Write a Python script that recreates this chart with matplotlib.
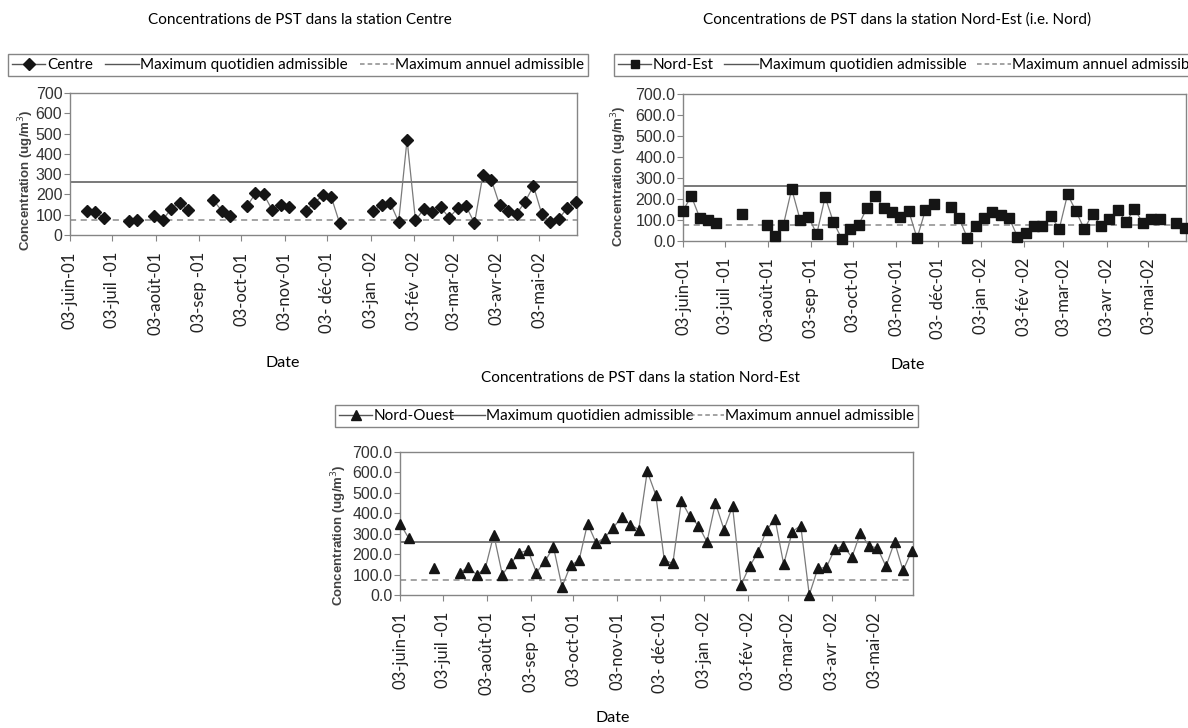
import numpy as np
import pandas as pd
import matplotlib
matplotlib.use("Agg")
import matplotlib.pyplot as plt
from matplotlib.lines import Line2D

plt.rcParams["font.family"] = ["Lato", "DejaVu Sans"]

# prélèvements tous les 6 jours, 03/06/2001 -> 29/05/2002
dates = pd.date_range("2001-06-03", periods=61, freq="6D")
nan = np.nan

centre = [nan, nan, 120, 111, 85, nan, nan, 67, 76, nan,
          92, 74, 129, 160, 123, nan, nan, 172, 120, 93,
          nan, 141, 205, 200, 123, 148, 137, nan, 120, 160,
          195, 188, 58, nan, nan, nan, 118, 150, 158, 65,
          470, 72, 129, 111, 136, 85, 132, 143, 58, 296,
          272, 146, 118, 105, 163, 242, 102, 63, 80, 132,
          165]
nord_est = [145, 213, 111, 100, 84, nan, nan, 130, nan, nan,
            75, 24, 75, 248, 102, 116, 33, 210, 89, 10,
            56, 76, 157, 216, 159, 140, 116, 143, 13, 148,
            177, nan, 162, 111, 16, 72, 108, 140, 124, 111,
            21, 40, 72, 72, 121, 57, 222, 143, 57, 130,
            72, 107, 148, 91, 153, 86, 107, 107, nan, 87,
            64]
nord_ouest = [350, 280, nan, nan, 130, nan, nan, 110, 135, 100,
              130, 295, 100, 155, 205, 220, 110, 165, 235, 40,
              145, 170, 350, 255, 280, 330, 380, 345, 320, 605,
              490, 170, 155, 460, 385, 340, 260, 450, 320, 435,
              50, 140, 210, 320, 370, 150, 310, 340, 0, 130,
              135, 225, 240, 185, 305, 240, 230, 140, 260, 120,
              215]

MAX_JOUR = 260
MAX_AN = 75

mois = pd.date_range("2001-06-03", periods=12, freq=pd.DateOffset(months=1))
lab_centre = ["03-juin-01", "03-juil -01", "03-août-01", "03-sep -01", "03-oct-01",
              "03-nov-01", "03- déc-01", "03-jan -02", "03-fév -02", "03-mar-02",
              "03-avr-02", "03-mai-02"]
lab_nord = ["03-juin-01", "03-juil -01", "03-août-01", "03-sep -01", "03-oct-01",
            "03-nov-01", "03- déc-01", "03-jan -02", "03-fév -02", "03-mar-02",
            "03-avr -02", "03-mai-02"]

GRIS = "#858585"
W, H = 1188, 728


def fx(px):
    return px / W


def fy(py):
    return 1 - py / H


def panneau(fig, rect, vals, marker, ms, nom, ticklabs, yfmt, leg_rect, titre, titre_xy, date_xy, ylab_xy):
    l, t, r, b = rect
    ax = fig.add_axes([fx(l), fy(b), fx(r - l), fy(t) - fy(b)])
    ax.plot(dates, vals, color="#7a7a7a", lw=0.9, marker=marker, ms=ms,
            mfc="#151515", mec="#151515", clip_on=False, zorder=3)
    ax.axhline(MAX_JOUR, color="#555555", lw=1.1)
    ax.axhline(MAX_AN, color="#8a8a8a", lw=1.1, ls=(0, (4, 3)))
    ax.set_xlim(pd.Timestamp("2001-06-03"), pd.Timestamp("2002-05-30"))
    ax.set_ylim(0, 700)
    ax.set_yticks(range(0, 701, 100))
    ax.set_yticklabels([yfmt.format(v) for v in range(0, 701, 100)],
                       family=["Liberation Sans"], fontsize=11.5, color="#333333")
    ax.set_xticks(mois)
    ax.set_xticklabels(ticklabs, rotation=90, fontsize=12, color="#222222")
    ax.tick_params(axis="both", direction="out", length=4, color=GRIS, pad=1.5)
    ax.tick_params(axis="x", pad=8)
    for s in ax.spines.values():
        s.set_color(GRIS)
        s.set_linewidth(1.0)

    handles = [Line2D([], [], color="#555555", lw=1, marker=marker, ms=ms - 0.5,
                      mfc="#151515", mec="#151515"),
               Line2D([], [], color="#555555", lw=1),
               Line2D([], [], color="#8a8a8a", lw=1.1, ls=(0, (3, 2)))]
    labels = [nom, "Maximum quotidien admissible", "Maximum annuel admissible"]
    x0, y0, x1, y1 = leg_rect
    ax.legend(handles, labels, ncol=3, mode="expand", loc="lower left",
              bbox_to_anchor=(fx(x0), fy(y1), fx(x1 - x0), fy(y0) - fy(y1)),
              bbox_transform=fig.transFigure, borderaxespad=0, fancybox=False,
              edgecolor=GRIS, framealpha=1, fontsize=11, handlelength=2.2,
              handletextpad=0.1, columnspacing=0.6, borderpad=0.25)

    fig.text(fx(titre_xy[0]), fy(titre_xy[1]), titre, ha="center", va="center", fontsize=11)
    fig.text(fx(date_xy[0]), fy(date_xy[1]), "Date", ha="center", va="center", fontsize=11.5)
    fig.text(fx(ylab_xy[0]), fy(ylab_xy[1]), "Concentration (ug/m$^3$)", rotation=90,
             ha="center", va="center", family=["Liberation Sans"], fontsize=9.5,
             fontweight="bold", color="#404040")
    return ax


fig = plt.figure(figsize=(11.88, 7.28), dpi=100)

panneau(fig, (70, 93, 577, 235), centre, "D", 6.5, "Centre", lab_centre, "{:d}",
        (8, 48, 588, 76), "Concentrations de PST dans la station Centre",
        (300, 20), (283, 363), (26, 180))
panneau(fig, (683, 94, 1186, 241), nord_est, "s", 6.5, "Nord-Est", lab_nord, "{:.1f}",
        (614, 48, 1205, 76), "Concentrations de PST dans la station Nord-Est (i.e. Nord)",
        (897, 20), (908, 365), (619, 176))
panneau(fig, (400, 452, 913, 595), nord_ouest, "^", 7.5, "Nord-Ouest", lab_nord, "{:.1f}",
        (335, 400, 918, 427), "Concentrations de PST dans la station Nord-Est",
        (640, 378), (613, 718), (339, 535))

fig.savefig("out.png", dpi=100)
